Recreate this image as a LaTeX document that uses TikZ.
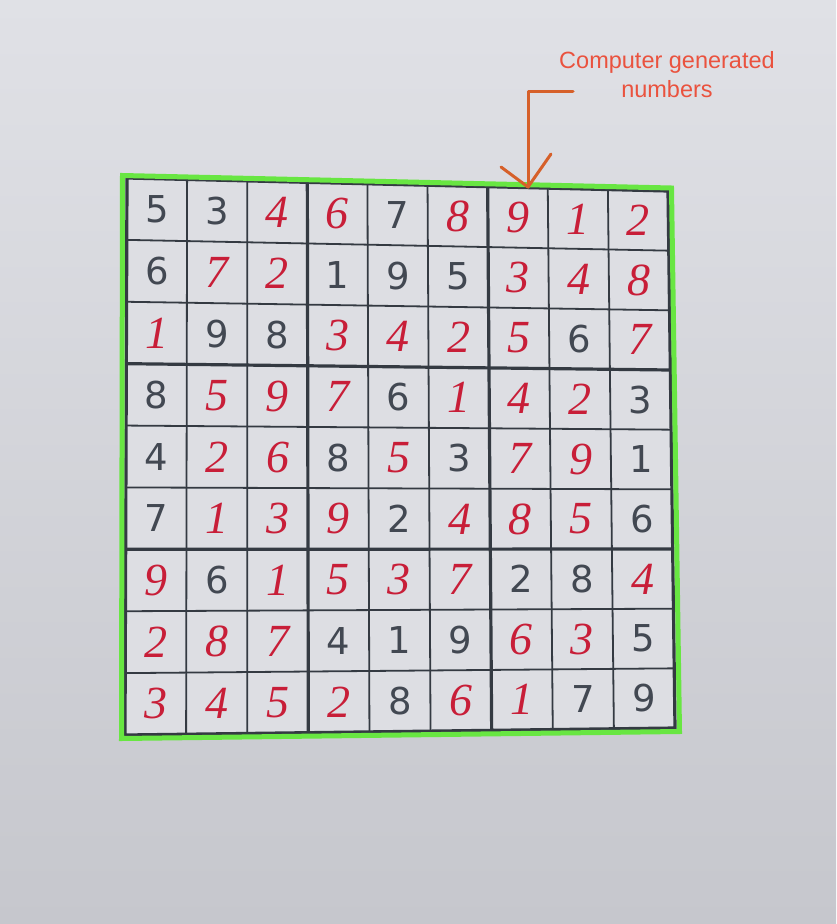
\documentclass[tikz,border=0pt]{standalone}
\usepackage{fontspec}
\newfontfamily\givenfont{DejaVu Sans}
\newfontfamily\solvedfont{Liberation Serif}
\newfontfamily\labelfont{Liberation Sans}
\usetikzlibrary{calc}
\definecolor{bgtop}{RGB}{224,225,230}
\definecolor{bgmid}{RGB}{206,207,212}
\definecolor{bgbot}{RGB}{198,199,205}
\definecolor{cellfill}{RGB}{221,222,227}
\definecolor{gridcol}{RGB}{52,58,66}
\definecolor{greencol}{RGB}{104,230,66}
\definecolor{givencol}{RGB}{66,72,82}
\definecolor{solvedcol}{RGB}{200,30,56}
\definecolor{labelcol}{RGB}{234,82,62}
\definecolor{arrowcol}{RGB}{214,96,42}
\tikzset{
  thinline/.style={draw=gridcol, line width=1.8pt},
  thickline/.style={draw=gridcol, line width=3.2pt},
  frameline/.style={draw=greencol, line width=5pt, line join=miter},
  gv/.style={font=\givenfont\fontsize{37}{37}\selectfont, text=givencol, inner sep=0pt},
  sv/.style={font=\solvedfont\itshape\fontsize{46}{46}\selectfont, text=solvedcol, inner sep=0pt},
  labeltext/.style={font=\labelfont\fontsize{23.5}{29}\selectfont, text=labelcol, inner sep=0pt},
  pointer/.style={draw=arrowcol, line width=3pt, line cap=round, line join=round},
}
\begin{document}
\begin{tikzpicture}[x=1pt,y=-1pt]
\useasboundingbox (0,0) rectangle (836,924);
\shade[top color=bgtop, middle color=bgmid, bottom color=bgbot] (0,0) rectangle (836,924);
% grid corners
\coordinate (TL) at (127,178);
\coordinate (TR) at (668,191);
\coordinate (BR) at (675,728);
\coordinate (BL) at (125,735);
\fill[cellfill] (TL) -- (TR) -- (BR) -- (BL) -- cycle;
% grid lines
\foreach \i in {1,2,4,5,7,8} {
  \draw[thinline] ($(TL)!\i/9!(TR)$) -- ($(BL)!\i/9!(BR)$);
  \draw[thinline] ($(TL)!\i/9!(BL)$) -- ($(TR)!\i/9!(BR)$);
}
\foreach \i in {3,6} {
  \draw[thickline] ($(TL)!\i/9!(TR)$) -- ($(BL)!\i/9!(BR)$);
  \draw[thickline] ($(TL)!\i/9!(BL)$) -- ($(TR)!\i/9!(BR)$);
}
\draw[thickline, line join=miter] (TL) -- (TR) -- (BR) -- (BL) -- cycle;
% green frame
\coordinate (GTL) at (122.5,175.5);
\coordinate (GTR) at (671.5,188);
\coordinate (GBR) at (679.5,731.5);
\coordinate (GBL) at (121.5,738.5);
\draw[frameline] (GTL) -- (GTR) -- (GBR) -- (GBL) -- cycle;
% digits
\foreach \rowlist [count=\r] in {
  {5/gv,3/gv,4/sv,6/sv,7/gv,8/sv,9/sv,1/sv,2/sv},
  {6/gv,7/sv,2/sv,1/gv,9/gv,5/gv,3/sv,4/sv,8/sv},
  {1/sv,9/gv,8/gv,3/sv,4/sv,2/sv,5/sv,6/gv,7/sv},
  {8/gv,5/sv,9/sv,7/sv,6/gv,1/sv,4/sv,2/sv,3/gv},
  {4/gv,2/sv,6/sv,8/gv,5/sv,3/gv,7/sv,9/sv,1/gv},
  {7/gv,1/sv,3/sv,9/sv,2/gv,4/sv,8/sv,5/sv,6/gv},
  {9/sv,6/gv,1/sv,5/sv,3/sv,7/sv,2/gv,8/gv,4/sv},
  {2/sv,8/sv,7/sv,4/gv,1/gv,9/gv,6/sv,3/sv,5/gv},
  {3/sv,4/sv,5/sv,2/sv,8/gv,6/sv,1/sv,7/gv,9/gv}} {
  \foreach \d/\t [count=\c] in \rowlist {
    \pgfmathsetmacro\uu{(\c-0.5)/9}
    \pgfmathsetmacro\vv{(\r-0.5)/9}
    \coordinate (ct) at ($(TL)!\uu!(TR)$);
    \coordinate (cb) at ($(BL)!\uu!(BR)$);
    \node[\t] (d-\r-\c) at ($(ct)!\vv!(cb)$) {\d};
  }
}
% annotation
\node[labeltext, anchor=base] (lbl1) at (667,68) {Computer generated};
\node[labeltext, anchor=base] (lbl2) at (667,97) {numbers};
\coordinate (hookend) at (573,91);
\coordinate (corner) at (528,91);
\coordinate (tip) at (528,187);
\coordinate (armL) at (501,167);
\coordinate (armR) at (551,154);
\draw[pointer] (hookend) -- (corner) -- (tip);
\draw[pointer] (armL) -- (tip) -- (armR);
\end{tikzpicture}
\end{document}
